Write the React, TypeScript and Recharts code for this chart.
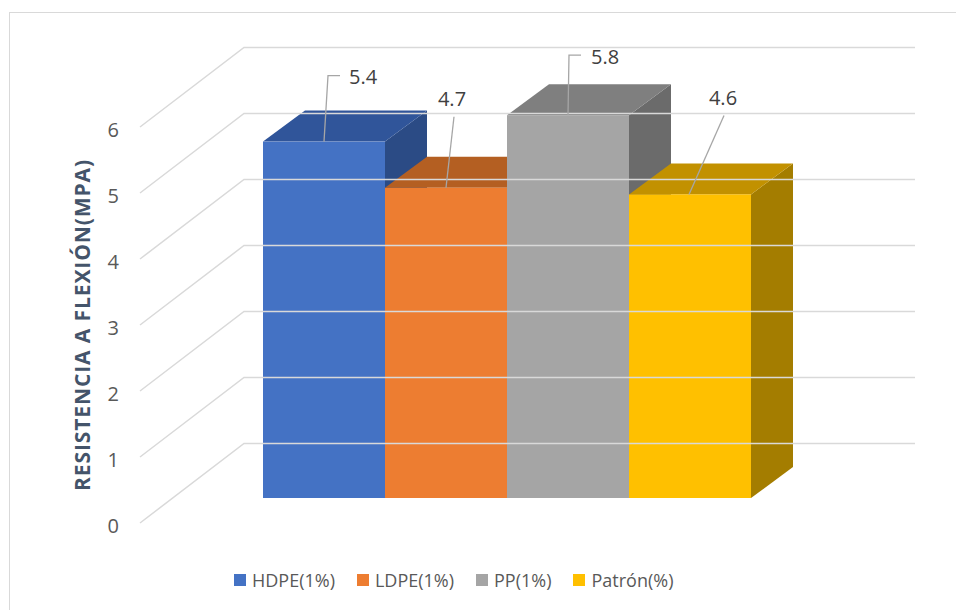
import React from 'react';
import { BarChart, Bar, XAxis, YAxis, Legend, LabelList } from 'recharts';

// Flexural strength (MPa) for each mix
const categories = ['Resistencia'];
const seriesKeys = ['hdpe', 'ldpe', 'pp', 'patron'];
const seriesNames = ['HDPE(1%)', 'LDPE(1%)', 'PP(1%)', 'Patrón(%)'];
const seriesValues = [5.4, 4.7, 5.8, 4.6];
const yTicks = [0, 1, 2, 3, 4, 5, 6];
const yTitle = 'RESISTENCIA A FLEXIÓN(MPA)';

const data = categories.map((name) => {
  const row: Record<string, number | string> = { name };
  seriesKeys.forEach((k, i) => {
    row[k] = seriesValues[i];
  });
  return row;
});

const FONT = '"Open Sans", sans-serif';
const GRID = '#D9D9D9';

// front / top / side shades of each box
const palette = [
  { front: '#4472C4', top: '#30559A', side: '#2B4B85' },
  { front: '#ED7D31', top: '#B45F22', side: '#A0541F' },
  { front: '#A5A5A5', top: '#7F7F7F', side: '#6B6B6B' },
  { front: '#FFC000', top: '#C29100', side: '#A47D00' },
];

// oblique projection of the depth axis
const DX = 42;
const DY = 31;

// leader line & text offsets, relative to the top-centre of each bar
const leaders: { path: number[][]; text: number[]; anchor: 'start' | 'middle' }[] = [
  { path: [[0, 0], [4, -66], [16, -66]], text: [25, -65], anchor: 'start' },
  { path: [[0, 0], [8, -71]], text: [6, -89], anchor: 'middle' },
  { path: [[0, 0], [1, -60], [13, -60]], text: [23, -59], anchor: 'start' },
  { path: [[-1, 0], [34, -79]], text: [33, -97], anchor: 'middle' },
];

const makeBox = (i: number) => (props: any) => {
  const { x, y, width, height } = props;
  const c = palette[i];
  const r = x + width;
  const b = y + height;
  return (
    <g>
      <polygon
        points={`${r},${y} ${r + DX},${y - DY} ${r + DX},${b - DY} ${r},${b}`}
        fill={c.side}
      />
      <polygon
        points={`${x},${y} ${x + DX},${y - DY} ${r + DX},${y - DY} ${r},${y}`}
        fill={c.top}
      />
      <rect x={x} y={y} width={width} height={height} fill={c.front} />
    </g>
  );
};

const makeLabel = (i: number) => (props: any) => {
  const { x, y, width, value } = props;
  const cx = x + width / 2;
  const l = leaders[i];
  const pts = l.path.map(([dx, dy]) => `${cx + dx},${y + dy}`).join(' ');
  return (
    <g>
      <polyline points={pts} fill="none" stroke="#A6A6A6" strokeWidth={1.3} />
      <text
        x={cx + l.text[0]}
        y={y + l.text[1]}
        textAnchor={l.anchor}
        dominantBaseline="central"
        fontFamily={FONT}
        fontSize={20}
        fill="#404040"
      >
        {Number(value).toFixed(1)}
      </text>
    </g>
  );
};

// floor + back wall gridline for one tick, with its value on the front edge
const GridTick = (props: any) => {
  const { y, payload } = props;
  const fy = y + 25;
  const by = y - 54.5;
  return (
    <g>
      <polyline
        points={`140,${fy} 244,${by} 915,${by}`}
        fill="none"
        stroke={GRID}
        strokeWidth={1.5}
      />
      <text
        x={119}
        y={fy + 2}
        textAnchor="end"
        dominantBaseline="central"
        fontFamily={FONT}
        fontSize={20}
        fill="#595959"
      >
        {payload.value}
      </text>
    </g>
  );
};

const renderTitle = () => (
  <text
    transform="translate(82,325) rotate(-90)"
    textAnchor="middle"
    dominantBaseline="central"
    fontFamily={FONT}
    fontWeight={700}
    fontSize={21}
    letterSpacing={0.9}
    fill="#44546A"
  >
    {yTitle}
  </text>
);

const LegendContent = (props: any) => {
  const { payload = [] } = props;
  return (
    <div style={{ display: 'flex', alignItems: 'center', fontFamily: FONT }}>
      {payload.map((p: any, i: number) => (
        <div
          key={i}
          style={{ display: 'flex', alignItems: 'center', marginRight: 22 }}
        >
          <span
            style={{
              display: 'inline-block',
              width: 12,
              height: 12,
              background: p.color,
              marginRight: 6,
            }}
          />
          <span style={{ fontSize: 18, color: '#595959', lineHeight: '22px' }}>
            {p.value}
          </span>
        </div>
      ))}
    </div>
  );
};

export default function App() {
  return (
    <div
      style={{
        position: 'absolute',
        left: 0,
        top: 0,
        width: 956,
        height: 610,
        overflow: 'hidden',
        background: '#FFFFFF',
      }}
    >
      <div
        style={{
          position: 'absolute',
          left: 9,
          top: 12,
          width: 1000,
          height: 700,
          borderLeft: `1.5px solid ${GRID}`,
          borderTop: `1.5px solid ${GRID}`,
        }}
      />
      <div style={{ position: 'absolute', left: 0, top: 0 }}>
        <BarChart
          width={956}
          height={610}
          data={data}
          margin={{ top: 102, right: 205, bottom: 112, left: 0 }}
          barGap={0}
          barCategoryGap={0}
        >
          <XAxis dataKey="name" hide />
          <YAxis
            width={263}
            domain={[0, 6]}
            ticks={yTicks}
            interval={0}
            axisLine={false}
            tickLine={false}
            tick={<GridTick />}
            label={renderTitle}
          />
          {seriesKeys.map((k, i) => (
            <Bar
              key={k}
              dataKey={k}
              name={seriesNames[i]}
              fill={palette[i].front}
              shape={makeBox(i)}
              isAnimationActive={false}
            >
              <LabelList dataKey={k} content={makeLabel(i)} />
            </Bar>
          ))}
          <Legend
            layout="horizontal"
            verticalAlign="middle"
            content={<LegendContent />}
            wrapperStyle={{ left: 234, top: 569, width: 'auto', height: 22 }}
          />
        </BarChart>
      </div>
    </div>
  );
}
